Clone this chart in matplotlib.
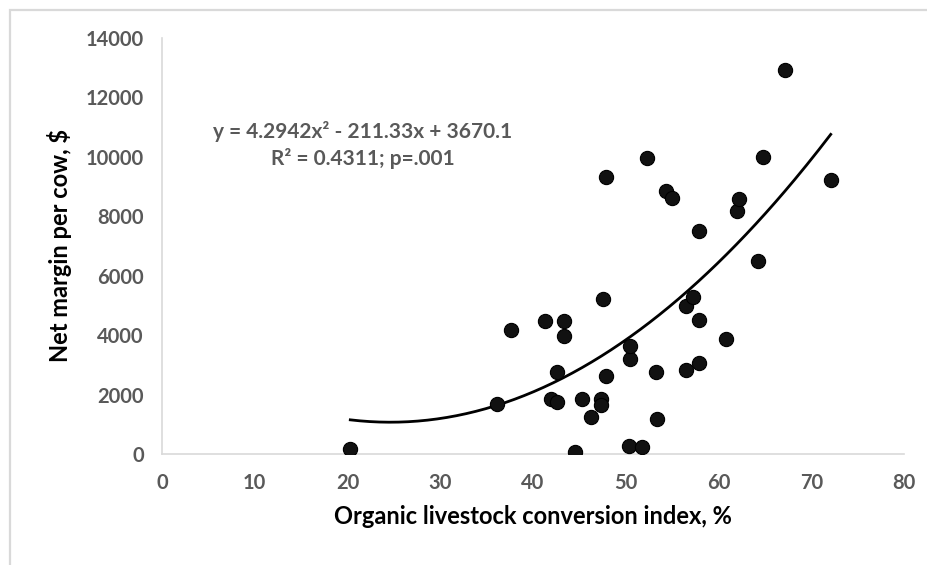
import numpy as np
import matplotlib
matplotlib.use("Agg")
import matplotlib.pyplot as plt
from matplotlib.patches import Rectangle

plt.rcParams['font.family'] = ['Lato', 'DejaVu Sans']

# Organic livestock conversion index (%) and net margin per cow ($)
conversion_index = [20.3, 36.1, 37.6, 41.3, 43.3, 43.3, 41.9, 42.6, 42.6, 44.5,
                    45.3, 46.3, 47.5, 47.3, 47.3, 47.9, 47.9, 50.4, 51.7, 50.5,
                    50.5, 52.3, 53.3, 53.4, 54.3, 55.0, 56.5, 57.2, 56.5, 57.9,
                    57.9, 57.9, 60.8, 62.0, 62.2, 64.3, 64.8, 67.2, 72.1]
net_margin = [170, 1680, 4170, 4480, 4480, 3970, 1850, 1750, 2760, 70,
              1850, 1240, 5220, 1850, 1650, 2630, 9330, 270, 240, 3200,
              3620, 9960, 2760, 1180, 8850, 8610, 4980, 5300, 2830, 4510,
              3070, 7510, 3870, 8180, 8590, 6500, 9990, 12930, 9230]

# Quadratic trendline coefficients
coef_a, coef_b, coef_c = 4.2942, -211.33, 3670.1
r_squared = 0.4311
p_value_text = "p=.001"

x_ticks = [0, 10, 20, 30, 40, 50, 60, 70, 80]
y_ticks = [0, 2000, 4000, 6000, 8000, 10000, 12000, 14000]

W, H = 928, 565
fig = plt.figure(figsize=(W / 100, H / 100), dpi=100)
ax = fig.add_axes([162 / W, 1 - 454 / H, (904 - 162) / W, (454 - 38) / H])

# Outer chart frame
fig.patches.append(Rectangle((10 / W, -0.05), 1.0, 1.05 - 10 / H,
                             transform=fig.transFigure, fill=False,
                             edgecolor='#d9d9d9', linewidth=1.6))

ax.scatter(conversion_index, net_margin, s=105, color='#111111',
           edgecolors='#000000', linewidths=0.8, zorder=3)

xs = np.linspace(min(conversion_index), max(conversion_index), 200)
ax.plot(xs, coef_a * xs ** 2 + coef_b * xs + coef_c, color='#000000',
        linewidth=2.0, zorder=2)

ax.set_xlim(0, 80)
ax.set_ylim(0, 14000)
ax.set_xticks(x_ticks)
ax.set_yticks(y_ticks)
ax.tick_params(length=0, labelsize=14.5, colors='#595959')
ax.tick_params(axis='y', pad=13)
ax.tick_params(axis='x', pad=14)
for lbl in ax.get_xticklabels() + ax.get_yticklabels():
    lbl.set_fontweight('bold')

for side in ['top', 'right']:
    ax.spines[side].set_visible(False)
for side in ['left', 'bottom']:
    ax.spines[side].set_color('#d9d9d9')
    ax.spines[side].set_linewidth(1.2)

ax.set_xlabel('Organic livestock conversion index, %', fontsize=17,
              fontweight='bold', color='#000000', labelpad=8)
ax.set_ylabel('Net margin per cow, $', fontsize=17, fontweight='bold',
              color='#000000', labelpad=10)

eq_text = (f"y = {coef_a}x\u00b2 - {abs(coef_b)}x + {coef_c}\n"
           f"R\u00b2 = {r_squared}; {p_value_text}")
fig.text(363 / W, 1 - 145 / H, eq_text, fontsize=15, fontweight='bold',
         color='#595959', ha='center', va='center', linespacing=1.4,
         multialignment='center')

fig.savefig('out.png', dpi=100)
